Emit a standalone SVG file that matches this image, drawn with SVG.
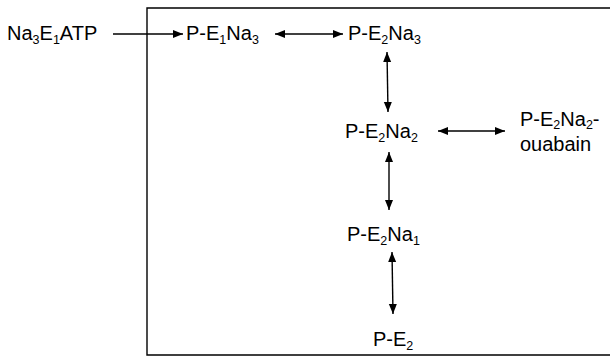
<svg xmlns="http://www.w3.org/2000/svg" width="610" height="356" viewBox="0 0 610 356">
  <style>
    .lbl { font-family: "Liberation Sans", Arial, sans-serif; font-size: 20px; fill: #000; }
    .sub { font-size: 12.5px; }
    .frame { fill: none; stroke: #000; stroke-width: 1.4; }
    .link { stroke: #000; stroke-width: 1.4; fill: none; }
  </style>
  <defs>
    <marker id="ah" viewBox="0 0 10 10" refX="10" refY="5" markerWidth="10" markerHeight="10" markerUnits="userSpaceOnUse" orient="auto-start-reverse">
      <path d="M0,1 L10,5 L0,9 Z" fill="#000"/>
    </marker>
  </defs>

  <!-- enclosing frame (runs off the right edge) -->
  <path class="frame" d="M620,8 H147 V355 H620"/>

  <g id="connectors">
    <line class="link" x1="113" y1="34" x2="183" y2="34" marker-end="url(#ah)"/>
    <line class="link" x1="275" y1="34" x2="343" y2="34" marker-start="url(#ah)" marker-end="url(#ah)"/>
    <line class="link" x1="387" y1="52" x2="388" y2="112" marker-start="url(#ah)" marker-end="url(#ah)"/>
    <line class="link" x1="438" y1="131" x2="505" y2="131" marker-start="url(#ah)" marker-end="url(#ah)"/>
    <line class="link" x1="389" y1="152" x2="389" y2="210" marker-start="url(#ah)" marker-end="url(#ah)"/>
    <line class="link" x1="392" y1="252" x2="393" y2="314" marker-start="url(#ah)" marker-end="url(#ah)"/>
  </g>

  <g id="na3e1atp">
    <text class="lbl" x="7" y="40">Na<tspan class="sub" dy="4">3</tspan><tspan dy="-4">E</tspan><tspan class="sub" dy="4">1</tspan><tspan dy="-4">ATP</tspan></text>
  </g>
  <g id="pe1na3">
    <text class="lbl" x="186" y="40">P-E<tspan class="sub" dy="4">1</tspan><tspan dy="-4">Na</tspan><tspan class="sub" dy="4">3</tspan></text>
  </g>
  <g id="pe2na3">
    <text class="lbl" x="348" y="40">P-E<tspan class="sub" dy="4">2</tspan><tspan dy="-4">Na</tspan><tspan class="sub" dy="4">3</tspan></text>
  </g>
  <g id="pe2na2">
    <text class="lbl" x="345" y="138">P-E<tspan class="sub" dy="4">2</tspan><tspan dy="-4">Na</tspan><tspan class="sub" dy="4">2</tspan></text>
  </g>
  <g id="pe2na2-ouabain">
    <text class="lbl" x="520" y="126">P-E<tspan class="sub" dy="3">2</tspan><tspan dy="-3">Na</tspan><tspan class="sub" dy="3">2</tspan><tspan dy="-3">-</tspan></text>
    <text class="lbl" x="520" y="151">ouabain</text>
  </g>
  <g id="pe2na1">
    <text class="lbl" x="347" y="241">P-E<tspan class="sub" dy="4">2</tspan><tspan dy="-4">Na</tspan><tspan class="sub" dy="4">1</tspan></text>
  </g>
  <g id="pe2">
    <text class="lbl" x="373" y="346">P-E<tspan class="sub" dy="4">2</tspan></text>
  </g>
</svg>
